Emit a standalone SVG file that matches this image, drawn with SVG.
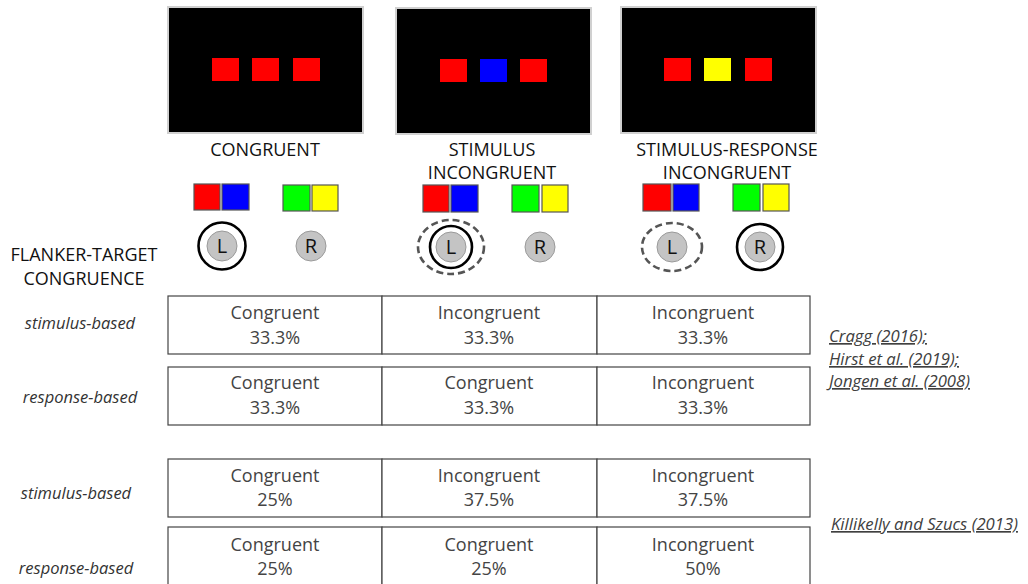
<svg xmlns="http://www.w3.org/2000/svg" width="1028" height="584" viewBox="0 0 1028 584">
  <style>
    .screen { fill: #000; stroke: #d0d0d0; stroke-width: 2; }
    .sq { stroke: none; }
    .key { stroke: #555; stroke-width: 1.2; }
    .btn { fill: #c4c4c4; stroke: #9a9a9a; stroke-width: 1; }
    .ring { fill: none; stroke: #000; stroke-width: 2.6; }
    .dash { fill: none; stroke: #555; stroke-width: 2.6; stroke-dasharray: 7 4; }
    .cell { fill: #fff; stroke: #444; stroke-width: 1.2; }
    .head { font-family: "Open Sans", "Liberation Sans", sans-serif; font-size: 18px; fill: #111; text-anchor: middle; }
    .btxt { font-family: "Open Sans", "Liberation Sans", sans-serif; font-size: 20px; fill: #111; text-anchor: middle; }
    .ctxt { font-family: "Open Sans", "Liberation Sans", sans-serif; font-size: 18px; fill: #444; text-anchor: middle; }
    .lab { font-family: "Open Sans", "Liberation Sans", sans-serif; font-size: 16.5px; font-style: italic; fill: #333; text-anchor: middle; }
    .cite { font-family: "Open Sans", "Liberation Sans", sans-serif; font-size: 16.7px; font-style: italic; fill: #404040; text-decoration: underline; }
  </style>

  <!-- stimulus screens -->
  <g id="screen-congruent">
    <rect class="screen" x="168" y="7" width="195" height="126"/>
    <rect class="sq" x="212" y="58" width="27" height="23" fill="#ff0000"/>
    <rect class="sq" x="252" y="58" width="27" height="23" fill="#ff0000"/>
    <rect class="sq" x="293" y="58" width="27" height="23" fill="#ff0000"/>
  </g>
  <g id="screen-stimulus-incongruent">
    <rect class="screen" x="396" y="8" width="195" height="126"/>
    <rect class="sq" x="440" y="59" width="27" height="23" fill="#ff0000"/>
    <rect class="sq" x="480" y="59" width="27" height="23" fill="#0000ff"/>
    <rect class="sq" x="520" y="59" width="27" height="23" fill="#ff0000"/>
  </g>
  <g id="screen-sr-incongruent">
    <rect class="screen" x="621" y="7" width="195" height="126"/>
    <rect class="sq" x="664" y="58" width="27" height="23" fill="#ff0000"/>
    <rect class="sq" x="704" y="58" width="27" height="23" fill="#ffff00"/>
    <rect class="sq" x="745" y="58" width="27" height="23" fill="#ff0000"/>
  </g>

  <!-- condition titles -->
  <g id="title-congruent">
    <text class="head" x="265" y="156">CONGRUENT</text>
  </g>
  <g id="title-stimulus-incongruent">
    <text class="head" x="492" y="156">STIMULUS</text>
    <text class="head" x="492" y="179">INCONGRUENT</text>
  </g>
  <g id="title-sr-incongruent">
    <text class="head" x="727" y="156">STIMULUS-RESPONSE</text>
    <text class="head" x="727" y="179">INCONGRUENT</text>
  </g>

  <!-- response-key colour mappings -->
  <g id="keys-congruent">
    <rect class="key" x="194" y="184" width="26" height="26" fill="#ff0000"/>
    <rect class="key" x="222" y="184" width="27" height="26" fill="#0000ff"/>
    <rect class="key" x="283" y="185" width="27" height="26" fill="#00ff00"/>
    <rect class="key" x="312" y="185" width="26" height="26" fill="#ffff00"/>
  </g>
  <g id="keys-stimulus-incongruent">
    <rect class="key" x="423" y="185" width="26" height="27" fill="#ff0000"/>
    <rect class="key" x="451" y="185" width="27" height="27" fill="#0000ff"/>
    <rect class="key" x="512" y="185" width="27" height="27" fill="#00ff00"/>
    <rect class="key" x="542" y="185" width="26" height="27" fill="#ffff00"/>
  </g>
  <g id="keys-sr-incongruent">
    <rect class="key" x="643" y="184" width="28" height="27" fill="#ff0000"/>
    <rect class="key" x="673" y="184" width="26" height="27" fill="#0000ff"/>
    <rect class="key" x="733" y="184" width="27" height="27" fill="#00ff00"/>
    <rect class="key" x="763" y="184" width="26" height="27" fill="#ffff00"/>
  </g>

  <!-- response buttons -->
  <g id="buttons-congruent">
    <circle class="ring" cx="222" cy="246" r="23.5"/>
    <circle class="btn" cx="222" cy="246" r="15"/>
    <text class="btxt" x="222" y="253">L</text>
    <circle class="btn" cx="311" cy="246" r="15"/>
    <text class="btxt" x="311" y="253">R</text>
  </g>
  <g id="buttons-stimulus-incongruent">
    <ellipse class="dash" cx="451" cy="247" rx="33" ry="27"/>
    <circle class="ring" cx="451" cy="247" r="21"/>
    <circle class="btn" cx="451" cy="247" r="15"/>
    <text class="btxt" x="451" y="254">L</text>
    <circle class="btn" cx="540" cy="247" r="15"/>
    <text class="btxt" x="540" y="254">R</text>
  </g>
  <g id="buttons-sr-incongruent">
    <ellipse class="dash" cx="672" cy="247" rx="30" ry="24"/>
    <circle class="btn" cx="672" cy="247" r="15"/>
    <text class="btxt" x="672" y="254">L</text>
    <circle class="ring" cx="760" cy="247" r="23"/>
    <circle class="btn" cx="760" cy="247" r="15"/>
    <text class="btxt" x="760" y="254">R</text>
  </g>

  <!-- row headings -->
  <g id="heading">
    <text class="head" x="84" y="261">FLANKER-TARGET</text>
    <text class="head" x="84" y="285">CONGRUENCE</text>
  </g>
  <g id="row-labels">
    <text class="lab" x="80" y="329">stimulus-based</text>
    <text class="lab" x="80" y="403">response-based</text>
    <text class="lab" x="76" y="499">stimulus-based</text>
    <text class="lab" x="76" y="574">response-based</text>
  </g>

  <!-- proportion tables -->
  <g id="table-equal-stimulus">
    <rect class="cell" x="168" y="296" width="214" height="58"/>
    <rect class="cell" x="382" y="296" width="215" height="58"/>
    <rect class="cell" x="597" y="296" width="213" height="58"/>
    <text class="ctxt" x="275" y="319">Congruent</text>
    <text class="ctxt" x="275" y="344">33.3%</text>
    <text class="ctxt" x="489" y="319">Incongruent</text>
    <text class="ctxt" x="489" y="344">33.3%</text>
    <text class="ctxt" x="703" y="319">Incongruent</text>
    <text class="ctxt" x="703" y="344">33.3%</text>
  </g>
  <g id="table-equal-response">
    <rect class="cell" x="168" y="367" width="214" height="58"/>
    <rect class="cell" x="382" y="367" width="215" height="58"/>
    <rect class="cell" x="597" y="367" width="213" height="58"/>
    <text class="ctxt" x="275" y="389">Congruent</text>
    <text class="ctxt" x="275" y="414">33.3%</text>
    <text class="ctxt" x="489" y="389">Congruent</text>
    <text class="ctxt" x="489" y="414">33.3%</text>
    <text class="ctxt" x="703" y="389">Incongruent</text>
    <text class="ctxt" x="703" y="414">33.3%</text>
  </g>
  <g id="table-unequal-stimulus">
    <rect class="cell" x="168" y="459" width="214" height="58"/>
    <rect class="cell" x="382" y="459" width="215" height="58"/>
    <rect class="cell" x="597" y="459" width="213" height="58"/>
    <text class="ctxt" x="275" y="482">Congruent</text>
    <text class="ctxt" x="275" y="506">25%</text>
    <text class="ctxt" x="489" y="482">Incongruent</text>
    <text class="ctxt" x="489" y="506">37.5%</text>
    <text class="ctxt" x="703" y="482">Incongruent</text>
    <text class="ctxt" x="703" y="506">37.5%</text>
  </g>
  <g id="table-unequal-response">
    <rect class="cell" x="168" y="527" width="214" height="62"/>
    <rect class="cell" x="382" y="527" width="215" height="62"/>
    <rect class="cell" x="597" y="527" width="213" height="62"/>
    <text class="ctxt" x="275" y="551">Congruent</text>
    <text class="ctxt" x="275" y="575">25%</text>
    <text class="ctxt" x="489" y="551">Congruent</text>
    <text class="ctxt" x="489" y="575">25%</text>
    <text class="ctxt" x="703" y="551">Incongruent</text>
    <text class="ctxt" x="703" y="575">50%</text>
  </g>

  <!-- references -->
  <g id="citations">
    <text class="cite" x="829" y="342">Cragg (2016);</text>
    <text class="cite" x="829" y="365">Hirst et al. (2019);</text>
    <text class="cite" x="829" y="387">Jongen et al. (2008)</text>
    <text class="cite" x="831" y="530">Killikelly and Szucs (2013)</text>
  </g>
</svg>
